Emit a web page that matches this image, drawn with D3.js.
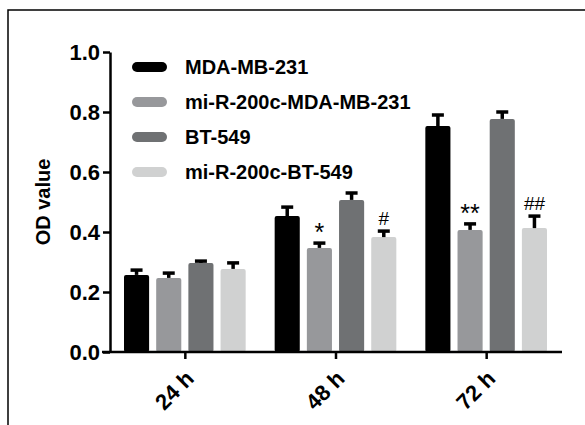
<!DOCTYPE html>
<html>
<head>
<meta charset="UTF-8">
<script src="https://d3js.org/d3.v7.min.js"></script>
<style>
    body { margin: 0; background: #fff; }
    svg text { font-family: "Liberation Sans", Arial, sans-serif; }
</style>
</head>
<body>
<div id="chart"></div>
<script>
    // data
    const timepoints = ["24 h", "48 h", "72 h"];
    const groups = ["MDA-MB-231", "mi-R-200c-MDA-MB-231", "BT-549", "mi-R-200c-BT-549"];
    const means = [
        [0.257, 0.453, 0.753],   // MDA-MB-231
        [0.247, 0.347, 0.407],   // mi-R-200c-MDA-MB-231
        [0.297, 0.507, 0.777],   // BT-549
        [0.277, 0.383, 0.413]    // mi-R-200c-BT-549
    ];
    const errors = [
        [0.016, 0.030, 0.037],
        [0.016, 0.016, 0.020],
        [0.006, 0.023, 0.023],
        [0.020, 0.020, 0.040]
    ];
    const marks = [
        ["", "", ""],
        ["", "*", "**"],
        ["", "", ""],
        ["", "#", "##"]
    ];
    const yTicks = [0.0, 0.2, 0.4, 0.6, 0.8, 1.0];
    const colors = ["#000000", "#97989b", "#6f7173", "#d0d1d1"];

    const W = 585, H = 425;
    const margin = {top: 52, left: 110, right: 23, bottom: 73};

    const svg = d3.select("#chart").append("svg")
        .attr("width", W).attr("height", H);

    // frame of the figure panel
    svg.append("path")
        .attr("d", `M8,${H} V10 H${W}`)
        .attr("fill", "none").attr("stroke", "#000").attr("stroke-width", 1.5);

    const x0 = d3.scaleBand().domain(timepoints)
        .range([margin.left, W - margin.right]);
    const x1 = d3.scaleBand().domain(groups)
        .range([14, x0.bandwidth() - 15]).paddingInner(0.22);
    const y = d3.scaleLinear().domain([0, 1]).range([H - margin.bottom, margin.top]);

    // bars
    const bars = [];
    groups.forEach((g, gi) => timepoints.forEach((t, ti) => {
        bars.push({g, gi, t, v: means[gi][ti], e: errors[gi][ti], m: marks[gi][ti]});
    }));

    const gBars = svg.append("g");
    gBars.selectAll("rect").data(bars).join("rect")
        .attr("x", d => x0(d.t) + x1(d.g))
        .attr("y", d => y(d.v))
        .attr("width", x1.bandwidth())
        .attr("height", d => y(0) - y(d.v))
        .attr("rx", 2)
        .attr("fill", d => colors[d.gi]);

    // error bars (upper only)
    const gErr = svg.append("g").attr("stroke", "#000").attr("stroke-width", 3.5);
    gErr.selectAll("line.v").data(bars).join("line").attr("class", "v")
        .attr("x1", d => x0(d.t) + x1(d.g) + x1.bandwidth() / 2)
        .attr("x2", d => x0(d.t) + x1(d.g) + x1.bandwidth() / 2)
        .attr("y1", d => y(d.v))
        .attr("y2", d => y(d.v + d.e));
    gErr.selectAll("line.c").data(bars).join("line").attr("class", "c")
        .attr("x1", d => x0(d.t) + x1(d.g) + x1.bandwidth() / 2 - 6)
        .attr("x2", d => x0(d.t) + x1(d.g) + x1.bandwidth() / 2 + 6)
        .attr("y1", d => y(d.v + d.e))
        .attr("y2", d => y(d.v + d.e));

    // significance marks
    svg.append("g").selectAll("text").data(bars.filter(d => d.m)).join("text")
        .attr("x", d => x0(d.t) + x1(d.g) + x1.bandwidth() / 2)
        .attr("y", d => y(d.v + d.e) + (d.m[0] === "*" ? -2 : -6))
        .attr("text-anchor", "middle")
        .attr("font-size", d => d.m[0] === "*" ? 25 : 19)
        .text(d => d.m);

    // y axis
    const yAxis = svg.append("g")
        .attr("transform", `translate(${margin.left},0)`)
        .call(d3.axisLeft(y).tickValues(yTicks).tickFormat(d3.format(".1f"))
            .tickSize(7).tickSizeOuter(0));
    yAxis.select(".domain").attr("stroke-width", 2.5);
    yAxis.selectAll(".tick line").attr("stroke-width", 2.5);
    yAxis.selectAll(".tick text")
        .attr("font-size", 22).attr("font-weight", "bold").attr("fill", "#000")
        .attr("x", -10);

    // x axis
    const xAxis = svg.append("g")
        .attr("transform", `translate(0,${y(0)})`)
        .call(d3.axisBottom(x0).tickSize(7).tickSizeOuter(0));
    xAxis.select(".domain").attr("stroke-width", 2.5)
        .attr("d", `M${margin.left - 8},0H${W - margin.right}`);
    xAxis.selectAll(".tick line").attr("stroke-width", 2.5);
    xAxis.selectAll(".tick text")
        .attr("font-size", 22).attr("font-weight", "bold").attr("fill", "#000")
        .attr("text-anchor", "end")
        .attr("dy", null)
        .attr("y", 0)
        .attr("transform", "translate(10,28) rotate(-45)");

    // y axis title
    svg.append("text")
        .attr("transform", `translate(50,${y(0.5)}) rotate(-90)`)
        .attr("text-anchor", "middle")
        .attr("font-size", 20).attr("font-weight", "bold")
        .text("OD value");

    // legend
    const legend = svg.append("g").attr("transform", "translate(132,67)");
    const items = legend.selectAll("g").data(groups).join("g")
        .attr("transform", (d, i) => `translate(0,${i * 35})`);
    items.append("rect")
        .attr("x", 0).attr("y", -5).attr("width", 35).attr("height", 10)
        .attr("rx", 5).attr("fill", (d, i) => colors[i]);
    items.append("text")
        .attr("x", 53).attr("y", 7)
        .attr("font-size", 20).attr("font-weight", "bold")
        .text(d => d);
</script>
</body>
</html>
